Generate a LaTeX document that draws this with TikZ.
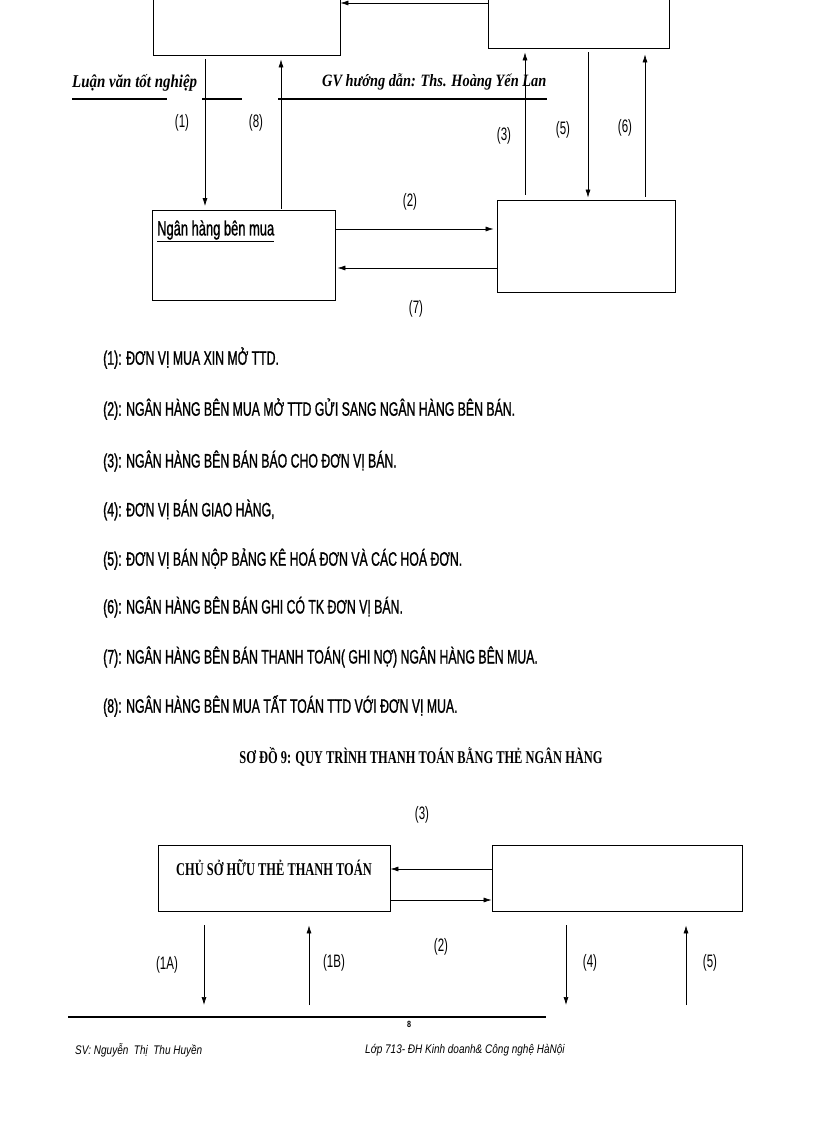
\documentclass[tikz,border=0pt]{standalone}
\usepackage{fontspec}
\usepackage{tikz}
\usetikzlibrary{shapes,arrows,arrows.meta,positioning}
\newfontfamily\narrowsans[FakeStretch=0.64]{Liberation Sans}
\newfontfamily\boldsans[FakeStretch=0.63,FakeBold=1]{Liberation Sans}
\newfontfamily\narrowserif[FakeStretch=0.69]{Liberation Serif}
\newfontfamily\headserif[FakeStretch=0.83]{Liberation Serif}
\newfontfamily\footsans[FakeStretch=0.8]{Liberation Sans}
\tikzstyle{block} = [rectangle, draw, line width=0.8pt, inner sep=0pt]
\tikzstyle{flow} = [draw, line width=0.7pt, -{Latex[length=8pt,width=5pt]}]
\tikzstyle{rule} = [draw, line width=1.1pt]
\tikzstyle{num} = [font=\narrowsans\fontsize{18}{20}\selectfont, inner sep=0pt]
\tikzstyle{note} = [font=\boldsans\fontsize{19.5}{22}\selectfont, anchor=west, inner sep=0pt]
\tikzstyle{head} = [font=\headserif\bfseries\itshape\fontsize{18}{20}\selectfont, anchor=base west, inner sep=0pt]
\tikzstyle{title} = [font=\narrowserif\bfseries\fontsize{18}{20}\selectfont, inner sep=0pt]
\tikzstyle{foot} = [font=\footsans\itshape\fontsize{12.5}{14}\selectfont, anchor=west, inner sep=0pt]

\begin{document}
\begin{tikzpicture}[x=1pt, y=-1pt]
    \clip (0,0) rectangle (816,1123);
    % Place nodes
    % Top boxes (cut by the page edge)
    \node [block, minimum width=187pt, minimum height=95pt] (topL) at (246.5,7.5) {};
    \node [block, minimum width=181pt, minimum height=88pt] (topR) at (578.5,4) {};

    % Page header
    \node [head] (hdL) at (72,88) {Luận văn tốt nghiệp};
    \node [head, font=\headserif\bfseries\itshape\fontsize{17.3}{20}\selectfont] (hdR) at (322,87) {GV hướng dẫn: Ths. Hoàng Yến Lan};
    \draw [rule] (72,99) -- (167,99);
    \draw [rule] (202,99) -- (242,99);
    \draw [rule] (278,99) -- (547,99);

    % Banks
    \node [block, minimum width=183pt, minimum height=90pt] (buyer) at (243.5,255.5) {};
    \node [note, font=\boldsans\fontsize{20.5}{22}\selectfont] (buyerTxt) at (157,231) {\underline{Ngân hàng bên mua}};
    \node [block, minimum width=178pt, minimum height=92pt] (sellBank) at (586,246) {};

    % Lanes
    \coordinate (l0) at (0,3);
    \coordinate (l2) at (0,229);
    \coordinate (l7) at (0,268);
    \coordinate (c1) at (205,0);
    \coordinate (c8) at (281,0);
    \coordinate (c3) at (525,0);
    \coordinate (c5) at (588,0);
    \coordinate (c6) at (645,0);

    % Draw edges
    \draw [flow] (topR.west |- l0) -- (topL.east |- l0);
    \draw [flow, shorten <=4pt, shorten >=4pt] (c1 |- topL.south) -- (c1 |- buyer.north);
    \draw [flow, shorten <=1pt, shorten >=4pt] (c8 |- buyer.north) -- (c8 |- topL.south);
    \draw [flow, shorten <=5pt, shorten >=4pt] (c3 |- sellBank.north) -- (c3 |- topR.south);
    \draw [flow, shorten <=4pt, shorten >=2pt] (c5 |- topR.south) -- (c5 |- sellBank.north);
    \draw [flow, shorten <=3pt, shorten >=6pt] (c6 |- sellBank.north) -- (c6 |- topR.south);
    \draw [flow, shorten >=3pt] (buyer.east |- l2) -- (sellBank.west |- l2);
    \draw [flow, shorten >=2pt] (sellBank.west |- l7) -- (buyer.east |- l7);

    % Step numbers
    \node [num] (n1) at (182,123) {(1)};
    \node [num] (n8) at (256,123) {(8)};
    \node [num] (n3) at (504,136) {(3)};
    \node [num] (n5) at (563,130) {(5)};
    \node [num] (n6) at (625,128) {(6)};
    \node [num] (n2) at (410,202) {(2)};
    \node [num] (n7) at (416,309) {(7)};

    % Legend
    \node [note] (s1) at (103,358) {(1): ĐƠN VỊ MUA XIN MỞ TTD.};
    \node [note] (s2) at (103,409) {(2): NGÂN HÀNG BÊN MUA MỞ TTD GỬI SANG NGÂN HÀNG BÊN BÁN.};
    \node [note] (s3) at (103,461) {(3): NGÂN HÀNG BÊN BÁN BÁO CHO ĐƠN VỊ BÁN.};
    \node [note] (s4) at (103,510) {(4): ĐƠN VỊ BÁN GIAO HÀNG,};
    \node [note] (s5) at (103,559) {(5): ĐƠN VỊ BÁN NỘP BẢNG KÊ HOÁ ĐƠN VÀ CÁC HOÁ ĐƠN.};
    \node [note] (s6) at (103,607) {(6): NGÂN HÀNG BÊN BÁN GHI CÓ TK ĐƠN VỊ BÁN.};
    \node [note] (s7) at (103,657) {(7): NGÂN HÀNG BÊN BÁN THANH TOÁN( GHI NỢ) NGÂN HÀNG BÊN MUA.};
    \node [note] (s8) at (103,706) {(8): NGÂN HÀNG BÊN MUA TẤT TOÁN TTD VỚI ĐƠN VỊ MUA.};

    % Second diagram
    \node [title] (title) at (421,757) {SƠ ĐỒ 9: QUY TRÌNH THANH TOÁN BẰNG THẺ NGÂN HÀNG};
    \node [block, minimum width=232pt, minimum height=66pt,
        label={[title, yshift=10pt]center:CHỦ SỞ HỮU THẺ THANH TOÁN}] (holder) at (274,878) {};
    \node [block, minimum width=250pt, minimum height=66pt] (bank) at (617,878) {};

    \coordinate (m3) at (0,869);
    \coordinate (m2) at (0,900);
    \coordinate (bot) at (0,1005);
    \coordinate (c1A) at (204,0);
    \coordinate (c1B) at (309,0);
    \coordinate (c4) at (566,0);
    \coordinate (c5b) at (686,0);

    \draw [flow] (bank.west |- m3) -- (holder.east |- m3);
    \draw [flow] (holder.east |- m2) -- (bank.west |- m2);
    \draw [flow, shorten <=14pt] (c1A |- holder.south) -- (c1A |- bot);
    \draw [flow, shorten >=14pt] (c1B |- bot) -- (c1B |- holder.south);
    \draw [flow, shorten <=14pt] (c4 |- bank.south) -- (c4 |- bot);
    \draw [flow, shorten >=14pt] (c5b |- bot) -- (c5b |- bank.south);

    \node [num] (m3n) at (422,815) {(3)};
    \node [num] (m2n) at (441,947) {(2)};
    \node [num] (m1An) at (167,965) {(1A)};
    \node [num] (m1Bn) at (334,963) {(1B)};
    \node [num] (m4n) at (590,963) {(4)};
    \node [num] (m5n) at (710,963) {(5)};

    % Page footer
    \draw [rule] (68,1017) -- (546,1017);
    \node [font=\footsans\bfseries\fontsize{9}{10}\selectfont, inner sep=0pt] (page) at (409,1024) {8};
    \node [foot] (sv) at (75,1050) {SV: Nguyễn\ \ Thị\ \ Thu Huyền};
    \node [foot] (lop) at (365,1050) {Lớp 713- ĐH Kinh doanh\& Công nghệ HàNội};
\end{tikzpicture}
\end{document}
